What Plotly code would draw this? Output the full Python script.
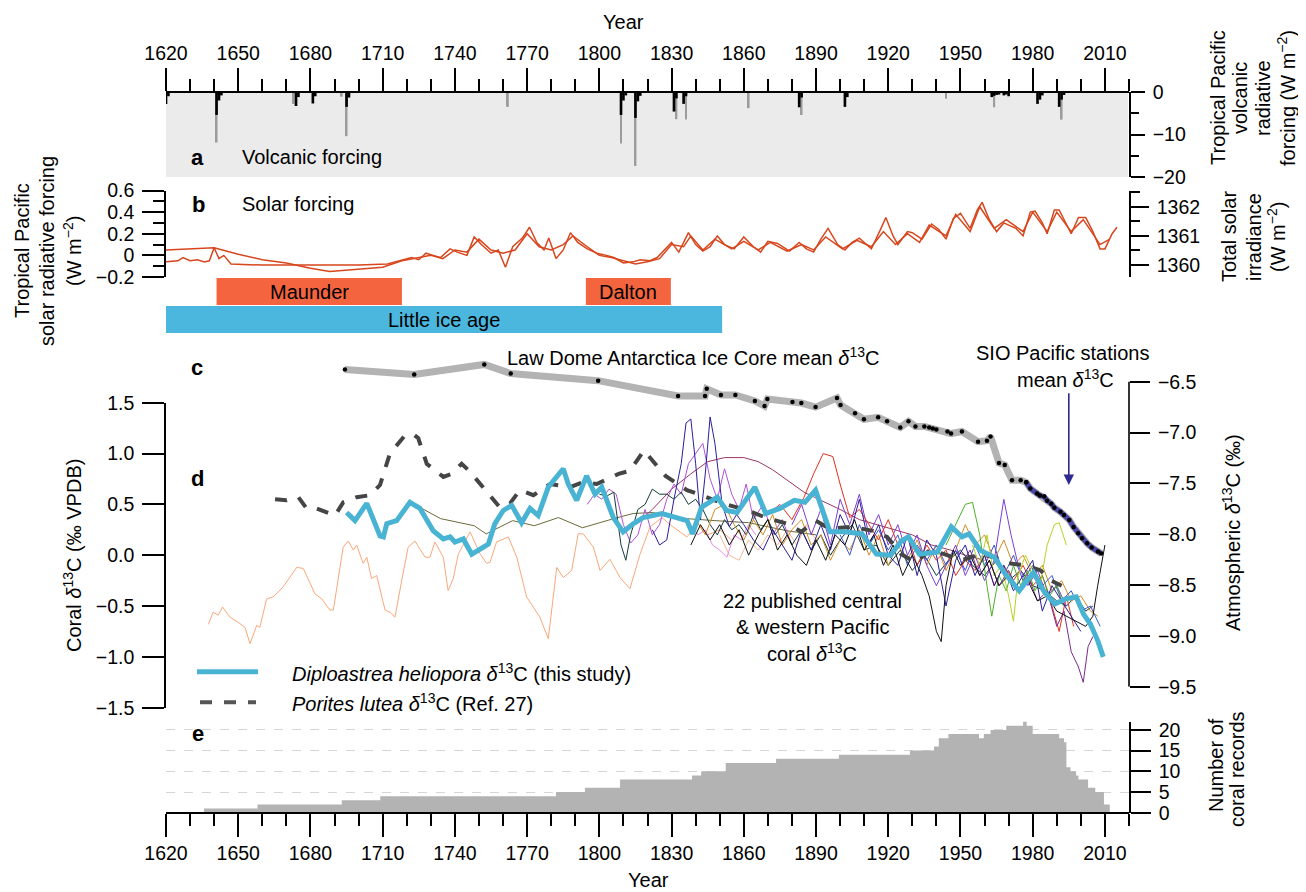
import plotly.graph_objects as go

# the page body keeps an 8 px margin, so the figure is drawn 8 px in from the window corner
OFF = 8
W, H = 1306 - OFF, 892 - OFF


def px(x):
    return (x - OFF) / W


def py(y):
    return 1 - (y - OFF) / H


font_family = "Liberation Sans, Arial, Helvetica, sans-serif"
tick_font = dict(size=19.5, color="black", family=font_family)
txt = 20
axis_lw = 1.6

# ---------------- data ----------------
# a: volcanic forcing (W m-2)
volc_gray_years = [1641, 1673, 1693, 1695, 1762, 1809, 1815, 1832, 1836, 1862, 1884, 1944, 1964, 1992]
volc_gray_vals = [-11.9, -2.8, -1.1, -10.4, -3.5, -12.1, -17.4, -6.4, -6.5, -3.8, -5.4, -1.6, -3.6, -6.5]
volc_black_years = [1620, 1621, 1641, 1642, 1643, 1674, 1675, 1681, 1682, 1695, 1696, 1809, 1810, 1811,
                    1815, 1816, 1817, 1831, 1832, 1835, 1836, 1883, 1884, 1902, 1903, 1963, 1964, 1965,
                    1966, 1968, 1969, 1970, 1982, 1983, 1984, 1991, 1992, 1993]
volc_black_vals = [-2.8, -1.0, -5.4, -2.0, -0.8, -3.3, -1.2, -2.7, -1.0, -3.5, -1.3, -5.4, -2.0, -0.8,
                   -6.1, -2.2, -0.9, -4.6, -1.5, -2.8, -1.0, -3.6, -1.3, -3.5, -1.2, -1.2, -0.9, -0.7,
                   -0.6, -0.8, -0.6, -1.0, -2.8, -1.8, -0.8, -3.5, -1.8, -0.7]

# b: solar forcing (W m-2)
solar_a_years = [1620, 1625, 1627, 1630, 1633, 1636, 1638, 1640, 1642, 1644,
                 1647, 1660, 1680, 1700, 1712, 1718, 1722, 1725, 1728, 1731,
                 1734, 1738, 1741, 1745, 1748, 1751, 1755, 1758, 1761, 1764,
                 1768, 1771, 1774, 1777, 1779, 1782, 1785, 1788, 1791, 1795,
                 1799, 1803, 1806, 1810, 1814, 1817, 1821, 1824, 1827, 1830,
                 1833, 1837, 1840, 1843, 1846, 1849, 1852, 1856, 1860, 1864,
                 1867, 1870, 1874, 1879, 1883, 1886, 1889, 1892, 1895, 1899,
                 1902, 1905, 1908, 1911, 1913, 1917, 1919, 1922, 1924, 1928,
                 1930, 1934, 1938, 1941, 1944, 1947, 1950, 1954, 1957, 1959,
                 1962, 1965, 1968, 1970, 1973, 1976, 1979, 1981, 1984, 1986,
                 1989, 1991, 1994, 1996, 1999, 2002, 2005, 2008, 2010, 2013, 2015]
solar_a_vals = [-0.06, -0.05, -0.02, -0.05, -0.04, -0.06, -0.05, 0.07, -0.03, 0.0,
                -0.08, -0.09, -0.09, -0.09, -0.08, -0.04, -0.02, -0.04, 0.02, 0.0,
                -0.02, 0.06, 0.03, 0.0, 0.17, 0.1, 0.02, 0.05, -0.11, 0.08,
                0.16, 0.26, 0.12, 0.05, 0.16, -0.03, 0.05, 0.21, 0.12, 0.06,
                0.02, 0.0, -0.02, -0.07, -0.06, -0.04, -0.05, -0.02, 0.05, 0.12,
                0.03, 0.21, 0.1, 0.04, 0.08, 0.18, 0.1, 0.06, 0.17, 0.08,
                0.03, 0.13, 0.11, 0.04, 0.12, 0.06, 0.03, 0.15, 0.25, 0.1,
                0.05, 0.12, 0.16, 0.1, 0.06, 0.25, 0.35, 0.18, 0.1, 0.22,
                0.21, 0.15, 0.29, 0.24, 0.15, 0.34, 0.39, 0.25, 0.42, 0.49,
                0.33, 0.22, 0.3, 0.28, 0.25, 0.18, 0.4, 0.41, 0.3, 0.2,
                0.42, 0.42, 0.28, 0.2, 0.35, 0.35, 0.22, 0.06, 0.06, 0.2, 0.26]
solar_b_years = [1620, 1630, 1640, 1650, 1660, 1670, 1680, 1688, 1700, 1710,
                 1718, 1725, 1730, 1735, 1740, 1745, 1750, 1755, 1760, 1765,
                 1770, 1775, 1780, 1785, 1789, 1795, 1800, 1805, 1810, 1815,
                 1820, 1825, 1830, 1835, 1838, 1843, 1848, 1855, 1860, 1866,
                 1871, 1878, 1884, 1889, 1894, 1901, 1907, 1913, 1918, 1923,
                 1928, 1933, 1937, 1944, 1948, 1954, 1958, 1964, 1969, 1976,
                 1980, 1986, 1990, 1996, 2001, 2008, 2012]
solar_b_vals = [0.05, 0.06, 0.07, 0.01, -0.04, -0.07, -0.12, -0.15, -0.13, -0.11,
                -0.05, -0.02, 0.0, -0.03, 0.05, 0.03, 0.15, 0.05, 0.02, 0.05,
                0.2, 0.08, 0.05, 0.1, 0.18, 0.08, 0.0, -0.02, -0.05, -0.08,
                -0.06, -0.03, 0.1, 0.08, 0.18, 0.05, 0.15, 0.06, 0.13, 0.05,
                0.12, 0.04, 0.1, 0.05, 0.17, 0.06, 0.14, 0.08, 0.22, 0.1,
                0.2, 0.12, 0.28, 0.18, 0.38, 0.22, 0.45, 0.25, 0.33, 0.22,
                0.4, 0.22, 0.4, 0.22, 0.33, 0.1, 0.15]

# solar minima / little ice age
period_names = ["Maunder", "Dalton", "Little ice age"]
period_start = [1641, 1794.4, 1620]
period_end = [1718, 1829.7, 1851]

# c: atmospheric d13C
ld_years = [1694.3, 1723.1, 1752.2, 1763.2, 1799.5, 1832.7, 1843.9, 1844.6, 1850.5, 1856.5,
            1864.6, 1868.6, 1869.8, 1880.2, 1883.9, 1889.8, 1898.7, 1900.2, 1906.2, 1909.9,
            1915.8, 1919.5, 1925, 1928.4, 1931.3, 1935, 1937, 1938.5, 1940, 1944.6,
            1946.1, 1950.6, 1957.3, 1961, 1962.5, 1966, 1968.4, 1971.4, 1975, 1977.3]
ld_vals = [-6.38, -6.43, -6.33, -6.42, -6.49, -6.64, -6.64, -6.57, -6.63, -6.63,
           -6.69, -6.74, -6.67, -6.70, -6.71, -6.75, -6.66, -6.73, -6.81, -6.87,
           -6.85, -6.89, -6.95, -6.89, -6.94, -6.94, -6.95, -6.96, -6.97, -6.99,
           -7.01, -6.99, -7.09, -7.08, -7.04, -7.30, -7.32, -7.47, -7.47, -7.49]
sio_years = [1977.3, 1979, 1981.8, 1983, 1984.8, 1986, 1987.7, 1989, 1991.5, 1993,
             1995.2, 1997, 1998.9, 2000.5, 2002.6, 2004.5, 2007.1, 2008.5]
sio_vals = [-7.49, -7.55, -7.60, -7.62, -7.63, -7.67, -7.70, -7.74, -7.78, -7.81,
            -7.86, -7.93, -7.99, -8.04, -8.09, -8.13, -8.17, -8.19]

# d: coral d13C
dip_years = [1695.0, 1698.5, 1703.4, 1705.4, 1708.9, 1710.3, 1711.7, 1715.8, 1721.3, 1725.5,
             1731, 1735.2, 1738, 1740, 1743.5, 1747, 1751.8, 1753.9, 1756.6, 1760.1,
             1763.6, 1767.7, 1771.2, 1774.6, 1778.8, 1785, 1787.1, 1790.6, 1794.7, 1798.2,
             1801, 1805.8, 1809.9, 1814.1, 1818.2, 1826, 1832, 1836.4, 1838.7, 1842.4,
             1849, 1852.8, 1857.2, 1864.6, 1869.1, 1875, 1881, 1885.4, 1889.8, 1895.8,
             1901.7, 1909.1, 1915.1, 1921, 1925.4, 1928.4, 1932.9, 1940.3, 1946.2, 1950.6,
             1953.6, 1958.1, 1964, 1968.5, 1974.4, 1980.3, 1984.8, 1989.2, 1993.7, 1998.1,
             2001.1, 2004, 2007, 2009.3]
dip_vals = [0.42, 0.34, 0.51, 0.39, 0.19, 0.18, 0.31, 0.34, 0.52, 0.46,
            0.24, 0.16, 0.18, 0.13, 0.16, 0.01, 0.08, 0.11, 0.31, 0.44,
            0.49, 0.32, 0.46, 0.39, 0.67, 0.85, 0.70, 0.54, 0.78, 0.60,
            0.67, 0.37, 0.23, 0.31, 0.37, 0.41, 0.37, 0.34, 0.21, 0.47,
            0.57, 0.44, 0.42, 0.67, 0.41, 0.46, 0.54, 0.52, 0.64, 0.23,
            0.23, 0.21, 0.01, 0.0, 0.14, 0.18, 0.01, 0.03, 0.28, 0.18,
            0.21, 0.05, -0.02, -0.18, -0.35, -0.17, -0.36, -0.48, -0.43, -0.41,
            -0.58, -0.68, -0.84, -1.0]
por_years = [1665.3, 1670.1, 1675, 1678.4, 1682.6, 1690.2, 1693.6, 1699.2, 1704.7, 1708.9,
             1713, 1719.3, 1722.7, 1724.8, 1728.3, 1735.2, 1738.7, 1742.8, 1746.3, 1751.8,
             1758.7, 1762.9, 1767, 1772.6, 1779.5, 1787.8, 1793.3, 1798.9, 1803.7, 1808,
             1812.7, 1818.5, 1827.5, 1836.4, 1842.4, 1851.3, 1861.7, 1869.1, 1878, 1883.9,
             1889.8, 1895.8, 1904.7, 1913.6, 1919.5, 1925.4, 1931.4, 1937.3, 1943.3, 1950.6,
             1958.1, 1964, 1970, 1977.3, 1983.3, 1987.7, 1992]
por_vals = [0.55, 0.54, 0.57, 0.46, 0.46, 0.39, 0.52, 0.57, 0.59, 0.69,
            1.0, 1.18, 1.19, 1.15, 0.90, 0.77, 0.80, 0.90, 0.82, 0.67,
            0.47, 0.51, 0.64, 0.59, 0.70, 0.67, 0.72, 0.70, 0.75, 0.8,
            0.83, 1.03, 0.78, 0.64, 0.59, 0.51, 0.44, 0.37, 0.31, 0.23,
            0.34, 0.26, 0.28, 0.24, 0.18, 0.01, -0.07, 0.05, 0.01, -0.05,
            0.01, -0.02, -0.08, -0.10, -0.15, -0.25, -0.3]

# published coral records (thin lines)
orange_years = [1637.6, 1639.6, 1641.7, 1643.5, 1646.6, 1650, 1652.8, 1654.9, 1657.7, 1659,
                1661.8, 1664.6, 1668.7, 1674.3, 1677, 1681.9, 1684.7, 1688.1, 1689.5, 1693.6,
                1695.7, 1697.8, 1699.2, 1701.9, 1703.4, 1705.4, 1707.5, 1711, 1713, 1715.1,
                1717.9, 1720.6, 1723.4, 1727.6, 1729.6, 1731.7, 1735.2, 1737.2, 1739.3, 1741.4,
                1746.3, 1750.5, 1753.2, 1754.6, 1757.3, 1760.1, 1762.2, 1765.7, 1769.8, 1775.3,
                1778.8, 1782.3, 1785, 1788.5, 1791.2, 1793.3, 1797.5, 1800.3, 1804.4, 1808.6,
                1812.7, 1816.9, 1821.1, 1826, 1830.5, 1836.4, 1840.9, 1845, 1850, 1855]
orange_vals = [-0.68, -0.56, -0.59, -0.51, -0.61, -0.66, -0.71, -0.87, -0.69, -0.71,
               -0.43, -0.41, -0.31, -0.12, -0.13, -0.38, -0.43, -0.54, -0.54, 0.08,
               0.14, 0.05, 0.10, -0.08, -0.02, -0.23, -0.20, -0.54, -0.56, -0.61,
               -0.25, 0.08, 0.14, -0.02, -0.02, 0.13, -0.02, -0.35, -0.23, 0.01,
               0.23, 0.01, -0.08, -0.07, 0.13, 0.16, 0.18, -0.02, -0.41, -0.61,
               -0.82, -0.12, -0.22, -0.15, 0.21, 0.21, 0.08, -0.15, -0.04, -0.22,
               -0.33, 0.01, 0.28, 0.37, 0.28, 0.18, 0.31, 0.2, 0.25, 0.15]
olive_years = [1724, 1734, 1748, 1753, 1764, 1773, 1783, 1793, 1806, 1814, 1822, 1836, 1848, 1862, 1878, 1890]
olive_vals = [0.49, 0.36, 0.29, 0.21, 0.34, 0.29, 0.37, 0.27, 0.36, 0.41, 0.42, 0.36, 0.34, 0.32, 0.24, 0.2]

navy_years = [1822, 1825, 1828, 1831, 1834, 1836, 1838, 1840, 1842, 1844, 1846, 1848, 1851, 1854, 1857, 1860,
              1864, 1868, 1872, 1876, 1880, 1884, 1888, 1892, 1896, 1900, 1904, 1908, 1912, 1916, 1920,
              1924, 1928, 1932, 1936, 1940, 1944, 1948, 1952, 1956, 1960, 1964, 1968, 1972, 1976, 1980,
              1984, 1988, 1992, 1996, 2000]
navy_vals = [0.25, 0.1, 0.15, 0.55, 0.9, 1.3, 1.34, 0.9, 0.35, 0.8, 1.36, 1.1, 0.5, 0.28, 0.4, 0.3,
             0.15, 0.05, 0.25, 0.1, -0.05, 0.25, 0.05, 0.3, 0.05, 0.4, 0.2, 0.55, 0.1, 0.3, 0.0,
             -0.1, 0.2, -0.2, 0.15, 0.0, -0.5, -0.05, 0.1, -0.2, 0.0, -0.3, -0.1, -0.35, -0.2, -0.05,
             -0.55, -0.3, -0.45, -0.6, -0.75]
violet_years = [1795, 1798, 1801, 1804, 1807, 1810, 1813, 1816, 1819, 1822, 1825, 1828, 1831, 1834,
                1837, 1840, 1843, 1846, 1849, 1852, 1855, 1858, 1861, 1864, 1868, 1872, 1876, 1880]
violet_vals = [0.5, 0.6, 0.55, 0.65, 0.6, 0.3, 0.12, 0.2, 0.45, 0.2, 0.3, 0.55, 0.7, 0.6,
               0.9, 1.0, 1.1, 0.75, 0.55, 0.85, 0.6, 0.45, 0.7, 0.35, 0.5, 0.2, 0.35, 0.1]
dkgreen_years = [1800, 1803, 1806, 1809, 1811, 1813, 1816, 1819, 1822, 1825, 1828, 1831, 1834, 1837,
                 1840, 1843, 1846, 1849, 1852, 1855, 1858, 1861, 1864, 1867, 1870, 1873, 1876,
                 1880, 1884, 1888, 1892, 1896, 1900, 1905, 1910, 1915, 1920, 1925, 1930, 1935,
                 1940, 1945, 1950, 1955, 1960, 1965, 1970, 1975, 1980, 1985, 1990, 1994, 1998, 2002, 2005]
dkgreen_vals = [0.6, 0.58, 0.62, 0.1, -0.05, 0.2, 0.45, 0.5, 0.65, 0.6, 0.6, 0.55, 0.62, 0.5,
                0.55, 0.45, 0.3, 0.2, 0.35, 0.25, 0.3, 0.2, 0.4, 0.25, 0.35, 0.2, 0.3,
                0.1, 0.25, 0.05, 0.2, 0.0, 0.15, 0.3, 0.05, 0.1, -0.1, 0.05, -0.15, 0.0,
                -0.2, -0.05, 0.05, -0.1, -0.2, -0.05, -0.25, -0.15, -0.3, -0.35, -0.45, -0.5, -0.4, -0.55, -0.5]
black_years = [1838, 1842, 1846, 1850, 1854, 1858, 1862, 1866, 1870, 1874, 1878, 1882, 1886, 1890,
               1894, 1898, 1902, 1906, 1910, 1914, 1918, 1922, 1926, 1930, 1934, 1937, 1940, 1942,
               1944, 1947, 1950, 1954, 1958, 1962, 1966, 1970, 1974, 1978, 1982, 1986, 1990, 1994,
               1998, 2002, 2005, 2007, 2010]
black_vals = [0.1, 0.3, 0.15, 0.3, 0.1, 0.25, 0.0, 0.2, 0.35, 0.05, 0.2, 0.0, -0.1, 0.15,
              -0.05, 0.2, 0.1, 0.35, 0.05, 0.2, -0.1, 0.1, -0.2, 0.0, -0.2, -0.4, -0.75, -0.85,
              -0.3, 0.05, -0.1, 0.0, -0.2, -0.05, -0.3, -0.2, -0.35, -0.25, -0.45, -0.4, -0.55, -0.6,
              -0.65, -0.7, -0.6, -0.3, 0.1]
red_years = [1870, 1875, 1880, 1885, 1889, 1893, 1897, 1900, 1904, 1908, 1912, 1916, 1920, 1924,
             1928, 1932, 1936, 1940, 1944, 1948, 1952, 1956, 1960, 1964, 1968, 1972, 1976, 1980,
             1984, 1988, 1991, 1994, 1997]
red_vals = [0.4, 0.5, 0.35, 0.57, 0.8, 1.0, 0.97, 0.7, 0.37, 0.45, 0.3, 0.15, 0.35, 0.1,
            0.2, -0.1, 0.1, -0.05, 0.05, -0.2, -0.05, -0.15, 0.0, -0.3, -0.1, -0.25, -0.1, -0.3,
            -0.2, -0.5, -0.75, -0.4, -0.7]
maroon_years = [1815, 1822, 1830, 1838, 1845, 1852, 1860, 1866, 1872, 1878, 1885, 1892, 1900,
                1908, 1915, 1922, 1930, 1938, 1946, 1952, 1960]
maroon_vals = [0.3, 0.45, 0.65, 0.8, 0.92, 0.96, 0.96, 0.92, 0.84, 0.74, 0.62, 0.54, 0.45,
               0.35, 0.3, 0.25, 0.2, 0.1, 0.05, 0.0, -0.05]
plum_years = [1950, 1954, 1958, 1962, 1966, 1970, 1974, 1978, 1982, 1986, 1990, 1993, 1996,
              1999, 2001, 2003, 2005]
plum_vals = [-0.1, 0.05, -0.2, -0.05, -0.3, -0.15, -0.35, -0.2, -0.45, -0.35, -0.7, -0.55, -0.95,
             -1.1, -1.25, -0.9, -0.8]
gold_years = [1840, 1844, 1848, 1852, 1856, 1860, 1864, 1868, 1872, 1876, 1880, 1884, 1888, 1892,
              1896, 1900, 1904, 1908, 1912, 1916, 1920, 1924, 1928, 1932, 1936, 1940, 1944, 1948,
              1952, 1956, 1960, 1964, 1968, 1972, 1976, 1980, 1984, 1988, 1992, 1996, 2000, 2004, 2007]
gold_vals = [0.35, 0.2, 0.45, 0.5, 0.3, 0.15, 0.35, 0.2, 0.4, 0.1, 0.25, 0.35, 0.1, 0.2,
             -0.05, 0.15, 0.05, 0.25, 0.0, 0.2, -0.1, 0.1, -0.05, 0.15, -0.1, 0.1, -0.15, 0.05,
             0.3, 0.1, 0.2, -0.05, 0.15, -0.1, 0.0, -0.2, -0.1, -0.35, -0.25, -0.45, -0.4, -0.55, -0.6]
green_years = [1944, 1948, 1952, 1955, 1958, 1961, 1963, 1966, 1969, 1972, 1975, 1978, 1981, 1984,
               1987, 1990, 1993]
green_vals = [0.1, 0.3, 0.5, 0.52, 0.2, -0.3, -0.6, -0.2, -0.35, -0.1, -0.3, -0.15, -0.35, -0.2,
              -0.4, -0.3, -0.5]
lime_years = [1955, 1958, 1961, 1964, 1967, 1970, 1972, 1974, 1977, 1980, 1983, 1986, 1989, 1991, 1994]
lime_vals = [0.1, -0.1, 0.2, -0.2, -0.1, -0.4, -0.65, -0.2, 0.0, -0.15, -0.3, 0.1, 0.3, 0.32, 0.1]
pink_years = [1838, 1841, 1844, 1847, 1850, 1853, 1856, 1859, 1862, 1865]
pink_vals = [0.3, 0.2, 0.25, 0.1, 0.05, -0.02, 0.2, 0.15, 0.3, 0.2]
blue_years = [1900, 1904, 1908, 1912, 1916, 1920, 1924, 1928, 1932, 1936, 1940, 1944, 1948, 1952,
              1956, 1960, 1964, 1968, 1972, 1976, 1980, 1984, 1988, 1992, 1996, 2000, 2004, 2008]
blue_vals = [0.2, 0.0, 0.3, 0.1, 0.25, 0.05, 0.2, -0.1, 0.1, -0.05, 0.1, -0.1, 0.05, -0.15,
             0.1, -0.1, 0.1, -0.2, 0.0, -0.25, -0.1, -0.3, -0.2, -0.45, -0.35, -0.55, -0.5, -0.7]
purple_years = [1880, 1884, 1888, 1892, 1896, 1900, 1904, 1908, 1912, 1916, 1920, 1924, 1928, 1932,
                1936, 1940, 1944, 1948, 1952, 1956, 1960, 1964, 1968, 1971, 1974, 1978, 1982, 1986,
                1990, 1994]
purple_vals = [0.3, 0.5, 0.2, 0.45, 0.1, 0.55, 0.3, 0.6, 0.2, 0.4, 0.1, 0.3, 0.0, 0.2,
               -0.1, -0.3, -0.1, 0.1, -0.2, 0.0, -0.25, -0.05, 0.55, 0.2, -0.1, -0.3, -0.15, -0.4,
               -0.3, -0.5]
salmon_years = [1850, 1854, 1858, 1862, 1866, 1870, 1874, 1878, 1882, 1886, 1890]
salmon_vals = [0.2, 0.0, -0.05, 0.15, 0.05, 0.2, 0.1, 0.25, 0.1, 0.3, 0.15]

# e: number of coral records
count_years = [1635.8, 1658, 1693, 1709, 1782, 1794, 1808.6, 1838.5, 1842.3, 1852.5, 1873.4,
               1899.5, 1929, 1939, 1941, 1945, 1957.7, 1959.7, 1962.5, 1969, 1976, 1977.5,
               1980, 1991, 1993, 1994, 1995.7, 1998, 1999, 2003, 2006, 2009.6, 2012]
count_vals = [1, 2, 3, 4, 5, 6, 8, 9, 10, 12, 13, 14, 15, 16, 18, 19, 18, 19, 20, 21, 22, 21,
              19, 18, 17, 11, 10, 9, 8, 6, 5, 2, 2]

thin_records = [
    (orange_years, orange_vals, "#f9a77a"),
    (salmon_years, salmon_vals, "#f5b895"),
    (pink_years, pink_vals, "#e68ce0"),
    (olive_years, olive_vals, "#6b6a3a"),
    (maroon_years, maroon_vals, "#9a3566"),
    (violet_years, violet_vals, "#b050d8"),
    (dkgreen_years, dkgreen_vals, "#143c3a"),
    (gold_years, gold_vals, "#d28b22"),
    (purple_years, purple_vals, "#7b3fd2"),
    (blue_years, blue_vals, "#3a55d0"),
    (red_years, red_vals, "#e2301f"),
    (green_years, green_vals, "#4caf2a"),
    (lime_years, lime_vals, "#b5d420"),
    (plum_years, plum_vals, "#7a2a8a"),
    (navy_years, navy_vals, "#2a1e9c"),
    (black_years, black_vals, "#111111"),
]

# ---------------- traces ----------------
fig = go.Figure()

# a: volcanic
fig.add_trace(go.Bar(x=volc_gray_years, y=volc_gray_vals, width=0.8, marker=dict(color="#9c9c9c", line_width=0),
                     yaxis="y2"))
fig.add_trace(go.Bar(x=volc_black_years, y=volc_black_vals, width=1.1, marker=dict(color="black", line_width=0),
                     yaxis="y2"))
fig.add_trace(go.Scatter(x=[1620], y=[0], xaxis="x2", yaxis="y2", mode="markers",
                         marker=dict(opacity=0), hoverinfo="skip"))

# b: solar
solar_color = "#d8461d"
fig.add_trace(go.Scatter(x=solar_b_years, y=solar_b_vals, mode="lines", yaxis="y3",
                         line=dict(color=solar_color, width=1.5)))
fig.add_trace(go.Scatter(x=solar_a_years, y=solar_a_vals, mode="lines", yaxis="y3",
                         line=dict(color=solar_color, width=1.5)))
fig.add_trace(go.Scatter(x=[1620], y=[1361], yaxis="y4", mode="markers",
                         marker=dict(opacity=0), hoverinfo="skip"))

# c: atmospheric
fig.add_trace(go.Scatter(x=ld_years + sio_years, y=ld_vals + sio_vals, mode="lines", yaxis="y6",
                         line=dict(color="#b3b3b3", width=7)))
fig.add_trace(go.Scatter(x=sio_years, y=sio_vals, mode="lines", yaxis="y6",
                         line=dict(color="#4a48a8", width=5)))
fig.add_trace(go.Scatter(x=ld_years + sio_years, y=ld_vals + sio_vals, mode="markers", yaxis="y6",
                         marker=dict(color="black", size=4.5)))

# d: coral
for yrs, vals, col in thin_records:
    fig.add_trace(go.Scatter(x=yrs, y=vals, mode="lines", yaxis="y5",
                             line=dict(color=col, width=1)))
fig.add_trace(go.Scatter(x=por_years, y=por_vals, mode="lines", yaxis="y5",
                         line=dict(color="#454545", width=4, dash="dash")))
fig.add_trace(go.Scatter(x=dip_years, y=dip_vals, mode="lines", yaxis="y5",
                         line=dict(color="#49b3d3", width=5)))

# e: coral count
fig.add_trace(go.Scatter(x=count_years, y=count_vals, mode="lines", line_shape="hv", fill="tozeroy",
                         fillcolor="#b3b3b3", line=dict(width=0, color="#b3b3b3"), yaxis="y"))

# ---------------- layout ----------------
x_dom = [px(166), px(1129)]
common_x = dict(range=[1620, 2020], domain=x_dom, tickmode="linear", tick0=1620, dtick=30,
                ticks="outside", ticklen=23, tickwidth=axis_lw, tickcolor="black",
                minor=dict(tickmode="linear", tick0=1620, dtick=10, ticks="outside", ticklen=12,
                           tickwidth=axis_lw, tickcolor="black", showgrid=False),
                showline=True, linecolor="black", linewidth=axis_lw, showgrid=False, zeroline=False,
                tickfont=tick_font, anchor="free", automargin=False)


def yax(**kw):
    d = dict(anchor="x", ticks="outside", tickwidth=axis_lw, tickcolor="black", showline=True,
             linecolor="black", linewidth=axis_lw, showgrid=False, zeroline=False, tickfont=tick_font,
             ticklabelstandoff=4, automargin=False)
    d.update(kw)
    return d


fig.update_layout(
    width=W, height=H,
    margin=dict(l=0, r=0, t=0, b=0, autoexpand=False),
    paper_bgcolor="white", plot_bgcolor="rgba(0,0,0,0)",
    showlegend=False, barmode="overlay",
    font=dict(family=font_family, color="black"),
    xaxis=dict(common_x, position=py(812.7), side="bottom"),
    xaxis2=dict(common_x, position=py(92), side="top", overlaying="x"),
    yaxis=yax(domain=[py(812.7), py(721.6)], range=[0, 22], side="right", ticklen=20,
              tickvals=[0, 5, 10, 15, 20], showgrid=True, gridcolor="#d6d6d6", griddash="dash",
              gridwidth=1.4),
    yaxis2=yax(domain=[py(177), py(92)], range=[-20, 0], side="right", ticklen=14,
               tickvals=[0, -10, -20],
               minor=dict(tickvals=[-5, -15], ticks="outside", ticklen=8, tickwidth=axis_lw,
                          tickcolor="black")),
    yaxis3=yax(domain=[py(277), py(190.5)], range=[-0.2, 0.6], side="left", ticklen=22,
               tickvals=[-0.2, 0, 0.2, 0.4, 0.6], ticktext=["\u22120.2", "0", "0.2", "0.4", "0.6"],
               minor=dict(tickvals=[-0.1, 0.1, 0.3, 0.5], ticks="outside", ticklen=11,
                          tickwidth=axis_lw, tickcolor="black")),
    yaxis4=yax(overlaying="y3", range=[1359.58, 1362.56], side="right", ticklen=18,
               tickvals=[1360, 1361, 1362],
               minor=dict(tickvals=[1360.5, 1361.5, 1362.5], ticks="outside", ticklen=9,
                          tickwidth=axis_lw, tickcolor="black")),
    yaxis5=yax(domain=[py(707.7), py(402.7)], range=[-1.5, 1.5], side="left", ticklen=22,
               tickvals=[1.5, 1.0, 0.5, 0.0, -0.5, -1.0, -1.5], tickformat=".1f"),
    yaxis6=yax(domain=[py(686.7), py(351.2)], range=[-9.5, -6.2], side="right", ticklen=20,
               showline=False, tickvals=[-6.5, -7.0, -7.5, -8.0, -8.5, -9.0, -9.5], tickformat=".1f"),
)

shapes = [
    dict(type="rect", xref="paper", yref="paper", x0=px(166), x1=px(1128), y0=py(177), y1=py(92),
         fillcolor="#ebebeb", line=dict(width=0), layer="below"),
    dict(type="line", xref="paper", yref="y6", x0=px(1129), x1=px(1129), y0=-6.5, y1=-9.5,
         line=dict(color="black", width=axis_lw)),
    dict(type="line", xref="paper", yref="paper", x0=px(197), x1=px(258), y0=py(671.7), y1=py(671.7),
         line=dict(color="#49b3d3", width=5)),
    dict(type="line", xref="paper", yref="paper", x0=px(200), x1=px(256), y0=py(702.3), y1=py(702.3),
         line=dict(color="#555555", width=4, dash="dash")),
]
period_rows = [(278, 305, "#f4643f"), (278, 305, "#f4643f"), (306, 333, "#4bb7de")]
annotations = []
for name, s, e, (top, bot, col) in zip(period_names, period_start, period_end, period_rows):
    shapes.append(dict(type="rect", xref="x", yref="paper", x0=s, x1=e, y0=py(bot), y1=py(top),
                       fillcolor=col, line=dict(width=0), layer="below"))
    annotations.append(dict(x=(s + e) / 2, xref="x", y=py((top + bot) / 2), yref="paper", text=name,
                            showarrow=False, yanchor="middle", font=dict(size=txt)))
fig.update_layout(shapes=shapes)


def note(x, y, text, size=txt, angle=0, xanchor="center", bold=False):
    annotations.append(dict(x=px(x), y=py(y), xref="paper", yref="paper", text=f"<b>{text}</b>" if bold else text,
                            showarrow=False, textangle=angle, xanchor=xanchor, yanchor="middle",
                            font=dict(size=size, color="black", family=font_family)))


d13 = "<i>\u03b4</i><sup>13</sup>C"
note(623, 22, "Year")
note(648, 880, "Year")
for lx, t in zip([1218, 1240, 1263, 1287],
                 ["Tropical Pacific", "volcanic", "radiative", "forcing (W m<sup>\u22122</sup>)"]):
    note(lx, 98, t, angle=-90)
for lx, t in zip([22, 47, 72], ["Tropical Pacific", "solar radiative forcing", "(W m<sup>\u22122</sup>)"]):
    note(lx, 251, t, angle=-90)
for lx, t in zip([1229, 1254, 1277], ["Total solar", "irradiance", "(W m<sup>\u22122</sup>)"]):
    note(lx, 237, t, angle=-90)
note(1216, 765, "Number of", angle=-90)
note(1237, 769, "coral records", angle=-90)
note(72, 556, f"Coral {d13} (\u2030 VPDB)", angle=-90)
note(1231, 533, f"Atmospheric {d13} (\u2030)", angle=-90)

note(197, 157, "a", size=22, bold=True)
note(240, 157, "Volcanic forcing", xanchor="left")
note(198, 204, "b", size=22, bold=True)
note(240, 204, "Solar forcing", xanchor="left")
note(197, 367, "c", size=22, bold=True)
note(197, 478, "d", size=22, bold=True)
note(198, 733, "e", size=22, bold=True)
note(505, 357, f"Law Dome Antarctica Ice Core mean {d13}", xanchor="left")
note(1062, 353, "SIO Pacific stations")
note(1065, 378, f"mean {d13}")
note(812, 601, "22 published central")
note(812, 627, "&amp; western Pacific")
note(812, 652, f"coral {d13}")
note(290, 672, f"<i>Diploastrea heliopora</i> {d13} (this study)", xanchor="left")
note(290, 702, f"<i>Porites lutea</i> {d13} (Ref. 27)", xanchor="left")

annotations.append(dict(x=1995, y=-7.516, xref="x", yref="y6", ax=1995, ay=-6.598, axref="x", ayref="y6",
                        text="", showarrow=True, arrowhead=2, arrowsize=1.3, arrowwidth=1.6,
                        arrowcolor="#2e2a8f"))
fig.update_layout(annotations=annotations)

fig.write_html("out.html")
